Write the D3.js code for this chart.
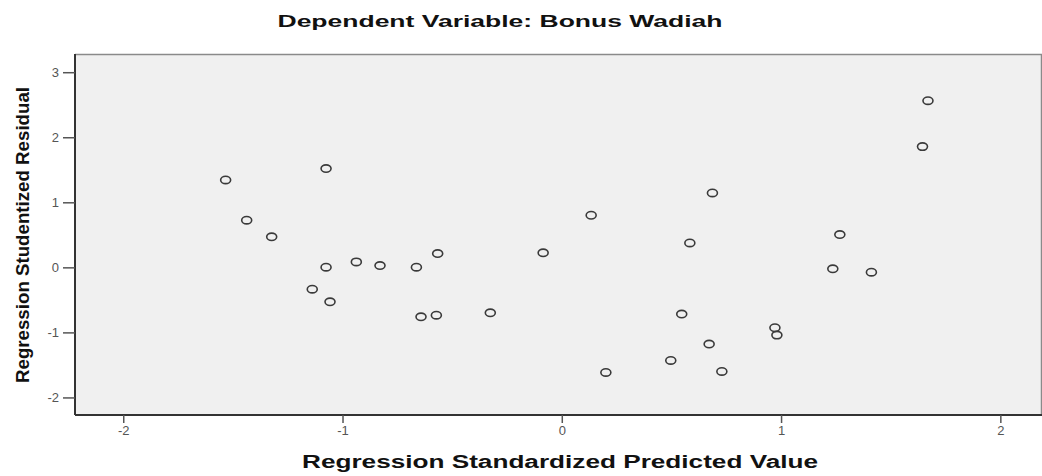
<!DOCTYPE html>
<html>
<head>
<meta charset="utf-8">
<script src="https://cdn.jsdelivr.net/npm/d3@7"></script>
<style>
  html, body { margin: 0; padding: 0; background: #ffffff; }
  svg { display: block; }
</style>
</head>
<body>
<svg id="chart" width="1042" height="476"></svg>
<script>
const titleText = "Dependent Variable: Bonus Wadiah";
const xLabel = "Regression Standardized Predicted Value";
const yLabel = "Regression Studentized Residual";
const xTicks = [-2, -1, 0, 1, 2];
const yTicks = [-2, -1, 0, 1, 2, 3];

const predicted = [
  -1.533, -1.075, -1.437, -1.323, -1.075, -0.937, -0.829, -0.663, -0.566, -1.138,
  -1.057, -0.642, -0.572, -0.326, -0.085, 1.670, 1.645, 0.687, 0.134, 0.584,
  1.268, 1.236, 1.412, 0.547, 0.972, 0.981, 0.672, 0.497, 0.201, 0.730
];
const residual = [
  1.344, 1.518, 0.725, 0.469, 0.003, 0.084, 0.028, 0.003, 0.212, -0.335,
  -0.530, -0.760, -0.735, -0.699, 0.223, 2.562, 1.856, 1.144, 0.801, 0.376,
  0.504, -0.023, -0.074, -0.719, -0.929, -1.042, -1.180, -1.431, -1.615, -1.600
];

const svg = d3.select("#chart");
const L = 75, R = 1042, T = 54, B = 415;

const x = d3.scaleLinear().domain([-2.22, 2.19]).range([L, R]);
const y = d3.scaleLinear().domain([-2.27, 3.28]).range([B, T]);

// plot background
svg.append("rect")
  .attr("x", L).attr("y", T).attr("width", R - L).attr("height", B - T)
  .attr("fill", "#f0f0f0");

// top and right borders (lighter)
svg.append("line").attr("x1", L).attr("x2", R).attr("y1", T + 0.5).attr("y2", T + 0.5)
  .attr("stroke", "#8a8a8a").attr("stroke-width", 1.5);
svg.append("line").attr("x1", R - 0.5).attr("x2", R - 0.5).attr("y1", T).attr("y2", B)
  .attr("stroke", "#8a8a8a").attr("stroke-width", 1.5);

// axes
const fmt = d => String(d);
const xAxis = d3.axisBottom(x).tickValues(xTicks).tickSize(8).tickPadding(3).tickFormat(fmt);
const yAxis = d3.axisLeft(y).tickValues(yTicks).tickSize(12).tickPadding(4).tickFormat(fmt);

const gx = svg.append("g").attr("transform", `translate(0,${B})`).call(xAxis);
const gy = svg.append("g").attr("transform", `translate(${L},0)`).call(yAxis);

[gx, gy].forEach(g => {
  g.select(".domain").attr("stroke", "#333").attr("stroke-width", 2);
  g.selectAll(".tick line").attr("stroke", "#555").attr("stroke-width", 1.5);
  g.selectAll(".tick text")
    .attr("fill", "#555")
    .style("font-family", "'Liberation Sans', Arial, sans-serif")
    .style("font-size", "13px");
});
gx.select(".domain").attr("d", `M${L},0H${R}`);
gy.select(".domain").attr("d", `M0,${B}V${T}`);

// points
svg.append("g").selectAll("ellipse")
  .data(predicted.map((p, i) => [p, residual[i]]))
  .join("ellipse")
  .attr("cx", d => x(d[0]))
  .attr("cy", d => y(d[1]))
  .attr("rx", 5)
  .attr("ry", 3.7)
  .attr("fill", "none")
  .attr("stroke", "#3a3a3a")
  .attr("stroke-width", 1.6);

// title
svg.append("text")
  .attr("x", 500).attr("y", 27)
  .attr("text-anchor", "middle")
  .attr("textLength", 445).attr("lengthAdjust", "spacingAndGlyphs")
  .style("font-family", "'Liberation Sans', Arial, sans-serif")
  .style("font-weight", "bold")
  .style("font-size", "16px")
  .attr("fill", "#111")
  .text(titleText);

// x label
svg.append("text")
  .attr("x", 560).attr("y", 468)
  .attr("text-anchor", "middle")
  .attr("textLength", 516).attr("lengthAdjust", "spacingAndGlyphs")
  .style("font-family", "'Liberation Sans', Arial, sans-serif")
  .style("font-weight", "bold")
  .style("font-size", "18px")
  .attr("fill", "#111")
  .text(xLabel);

// y label
svg.append("text")
  .attr("transform", `translate(29,235) rotate(-90)`)
  .attr("text-anchor", "middle")
  .attr("textLength", 296).attr("lengthAdjust", "spacingAndGlyphs")
  .style("font-family", "'Liberation Sans Narrow', 'Liberation Sans', Arial, sans-serif")
  .style("font-weight", "bold")
  .style("font-size", "18px")
  .attr("fill", "#111")
  .text(yLabel);
</script>
</body>
</html>
